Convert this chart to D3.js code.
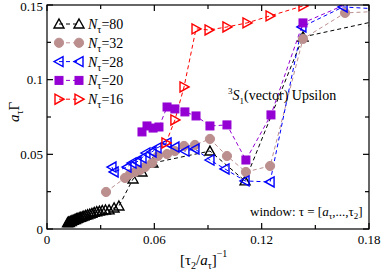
<!DOCTYPE html>
<html>
<head>
<style>
    body { margin: 0; background: #fff; }
</style>
</head>
<body>
<svg width="382" height="274" id="chart" font-family="'Liberation Serif', 'Times New Roman', serif"></svg>
<script src="https://cdn.jsdelivr.net/npm/d3@7"></script>
<script>
    // values: [x, y] = [(tau2/a_tau)^-1, a_tau*Gamma]
    let n80 = [[0.0115,0.0042],[0.0120,0.0047],[0.0125,0.0044],[0.0130,0.0052],[0.0135,0.0050],
        [0.0140,0.0057],[0.0146,0.0058],[0.0152,0.0063],[0.0158,0.0064],[0.0165,0.0069],
        [0.0172,0.0071],[0.0180,0.0076],[0.0188,0.0078],[0.0197,0.0083],[0.0206,0.0086],
        [0.0216,0.0091],[0.0227,0.0095],[0.0239,0.0100],[0.0251,0.0105],[0.0264,0.0111],
        [0.0278,0.0116],[0.0293,0.0120],[0.0309,0.0124],[0.0327,0.0127],[0.0347,0.0128],
        [0.0375,0.0141],[0.0402,0.0154],[0.0481,0.0335],[0.0531,0.0382],[0.0592,0.0442],
        [0.0911,0.0522],[0.1107,0.0322],[0.1431,0.1286],[0.1830,0.1390]];
    let n32 = [[0.0330,0.0248],[0.0436,0.0342],[0.0464,0.0368],[0.0492,0.0382],[0.0520,0.0395],
        [0.0548,0.0415],[0.0587,0.0442],[0.0620,0.0489],[0.0671,0.0502],[0.0715,0.0522],
        [0.0766,0.0556],[0.0827,0.0563],[0.0911,0.0603],[0.1006,0.0489],[0.1112,0.0382],
        [0.1247,0.0422],[0.1431,0.1273],[0.1666,0.1447],[0.1900,0.1460]];
    let n28 = [[0.0363,0.0415],[0.0375,0.0382],[0.0447,0.0415],[0.0475,0.0442],[0.0503,0.0449],
        [0.0531,0.0476],[0.0553,0.0509],[0.0587,0.0516],[0.0615,0.0543],[0.0671,0.0576],
        [0.0715,0.0549],[0.0771,0.0522],[0.0827,0.0536],[0.0911,0.0462],[0.0995,0.0402],
        [0.1107,0.0322],[0.1247,0.0315],[0.1425,0.1353],[0.1655,0.1487],[0.1900,0.1470]];
    let n20 = [[0.0531,0.0650],[0.0559,0.0690],[0.0593,0.0676],[0.0626,0.0683],[0.0671,0.0817],
        [0.0715,0.0804],[0.0771,0.0784],[0.0833,0.0757],[0.0911,0.0690],[0.1006,0.0697],
        [0.1112,0.0462],[0.1252,0.0764],[0.1431,0.1380],[0.1720,0.1530]];
    let n16 = [[0.0665,0.0576],[0.0715,0.0730],[0.0766,0.0951],[0.0833,0.1340],[0.0906,0.1333],
        [0.1006,0.1353],[0.1118,0.1380],[0.1247,0.1427],[0.1431,0.1494],[0.1700,0.1560]];

    let seriesNames = ["80", "32", "28", "20", "16"];
    let seriesData = [n80, n32, n28, n20, n16];
    let colors = ["#000000", "#bc8f8f", "#0000ff", "#9400d3", "#ff0000"];
    let shapes = ["up", "circle", "left", "square", "right"];

    let xTicks = [0, 0.06, 0.12, 0.18];
    let xTickLabels = ["0", "0.06", "0.12", "0.18"];
    let yTicks = [0, 0.05, 0.1, 0.15];
    let yTickLabels = ["0", "0.05", "0.1", "0.15"];

    let pLeft = 47, pRight = 369, pTop = 5, pBottom = 229;
    let x = d3.scaleLinear().domain([0, 0.18]).range([pLeft, pRight]);
    let y = d3.scaleLinear().domain([0, 0.15]).range([pBottom, pTop]);

    let svg = d3.select("#chart");

    svg.append("clipPath").attr("id", "clip")
        .append("rect").attr("x", pLeft).attr("y", pTop)
        .attr("width", pRight - pLeft).attr("height", pBottom - pTop);

    function marker(g, shape, color) {
        if (shape === "circle") {
            g.append("circle").attr("r", 4.6).attr("fill", color).attr("stroke", color);
        } else if (shape === "square") {
            g.append("rect").attr("x", -4).attr("y", -4).attr("width", 8).attr("height", 8)
                .attr("fill", color).attr("stroke", color);
        } else {
            let pts = {
                up: "0,-5 5,4 -5,4",
                left: "-5,0 4,-5 4,5",
                right: "5,0 -4,-5 -4,5"
            }[shape];
            g.append("polygon").attr("points", pts).attr("fill", "none")
                .attr("stroke", color).attr("stroke-width", 1.4);
        }
    }

    let plot = svg.append("g").attr("clip-path", "url(#clip)");
    let line = d3.line().x(function (d) { return x(d[0]); }).y(function (d) { return y(d[1]); });

    seriesData.forEach(function (data, i) {
        plot.append("path").datum(data)
            .attr("d", line)
            .attr("fill", "none")
            .attr("stroke", colors[i])
            .attr("stroke-width", 1)
            .attr("stroke-dasharray", "4,3");
    });
    seriesData.forEach(function (data, i) {
        plot.selectAll(null).data(data).enter().append("g")
            .attr("transform", function (d) { return "translate(" + x(d[0]) + "," + y(d[1]) + ")"; })
            .each(function () { marker(d3.select(this), shapes[i], colors[i]); });
    });

    // frame and ticks (inward on all sides)
    let axes = svg.append("g").attr("stroke", "#000").attr("stroke-width", 1.2);
    axes.append("rect").attr("x", pLeft).attr("y", pTop)
        .attr("width", pRight - pLeft).attr("height", pBottom - pTop).attr("fill", "none");

    let xMinor = [0.03, 0.09, 0.15];
    let yMinor = [0.025, 0.075, 0.125];
    xTicks.concat(xMinor).forEach(function (t, i) {
        let len = i < xTicks.length ? 6 : 4;
        axes.append("line").attr("x1", x(t)).attr("x2", x(t)).attr("y1", pBottom).attr("y2", pBottom - len);
        axes.append("line").attr("x1", x(t)).attr("x2", x(t)).attr("y1", pTop).attr("y2", pTop + len);
    });
    yTicks.concat(yMinor).forEach(function (t, i) {
        let len = i < yTicks.length ? 6 : 4;
        axes.append("line").attr("y1", y(t)).attr("y2", y(t)).attr("x1", pLeft).attr("x2", pLeft + len);
        axes.append("line").attr("y1", y(t)).attr("y2", y(t)).attr("x1", pRight).attr("x2", pRight - len);
    });

    svg.selectAll(".xlab").data(xTicks).enter().append("text")
        .attr("x", function (d) { return x(d); })
        .attr("y", 244)
        .attr("text-anchor", "middle")
        .attr("font-size", 13)
        .text(function (d, i) { return xTickLabels[i]; });
    svg.selectAll(".ylab").data(yTicks).enter().append("text")
        .attr("x", 43)
        .attr("y", function (d) { return Math.max(y(d) + 4.5, 11); })
        .attr("text-anchor", "end")
        .attr("font-size", 13)
        .text(function (d, i) { return yTickLabels[i]; });

    // axis titles
    let xt = svg.append("text").attr("x", 180).attr("y", 265).attr("font-size", 15);
    xt.append("tspan").text("[τ");
    xt.append("tspan").attr("font-size", 10).attr("dy", 4).text("2");
    xt.append("tspan").attr("dy", -4).text("/");
    xt.append("tspan").attr("font-style", "italic").text("a");
    xt.append("tspan").attr("font-size", 10).attr("dy", 4).text("τ");
    xt.append("tspan").attr("dy", -4).text("]");
    xt.append("tspan").attr("font-size", 10).attr("dy", -8).text("−1");

    let yt = svg.append("text").attr("transform", "translate(19,122) rotate(-90)").attr("font-size", 15);
    yt.append("tspan").attr("font-style", "italic").text("a");
    yt.append("tspan").attr("font-size", 10).attr("dy", 4).text("τ");
    yt.append("tspan").attr("dy", -4).text("Γ");

    // legend
    let legend = svg.append("g");
    seriesNames.forEach(function (name, i) {
        let ly = 24 + i * 18.8;
        legend.append("line").attr("x1", 59).attr("x2", 79).attr("y1", ly).attr("y2", ly)
            .attr("stroke", colors[i]).attr("stroke-dasharray", "4,3");
        [59, 79].forEach(function (lx) {
            let g = legend.append("g").attr("transform", "translate(" + lx + "," + ly + ")");
            marker(g, shapes[i], colors[i]);
        });
        let t = legend.append("text").attr("x", 88).attr("y", ly + 5).attr("font-size", 14);
        t.append("tspan").attr("font-style", "italic").text("N");
        t.append("tspan").attr("font-size", 10).attr("dy", 4).text("τ");
        t.append("tspan").attr("dy", -4).text("=" + name);
    });

    // annotations
    let a1 = svg.append("text").attr("x", 228).attr("y", 100).attr("font-size", 14);
    a1.append("tspan").attr("font-size", 9).attr("dy", -6).text("3");
    a1.append("tspan").attr("font-style", "italic").attr("dy", 6).text("S");
    a1.append("tspan").attr("font-size", 9).attr("dy", 4).text("1");
    a1.append("tspan").attr("dy", -4).text("(vector) Upsilon");

    let a2 = svg.append("text").attr("x", 250).attr("y", 216).attr("font-size", 13);
    a2.append("tspan").text("window: τ = [");
    a2.append("tspan").attr("font-style", "italic").text("a");
    a2.append("tspan").attr("font-size", 9).attr("dy", 3).text("τ");
    a2.append("tspan").attr("dy", -3).text(",...,τ");
    a2.append("tspan").attr("font-size", 9).attr("dy", 3).text("2");
    a2.append("tspan").attr("dy", -3).text("]");
</script>
</body>
</html>
